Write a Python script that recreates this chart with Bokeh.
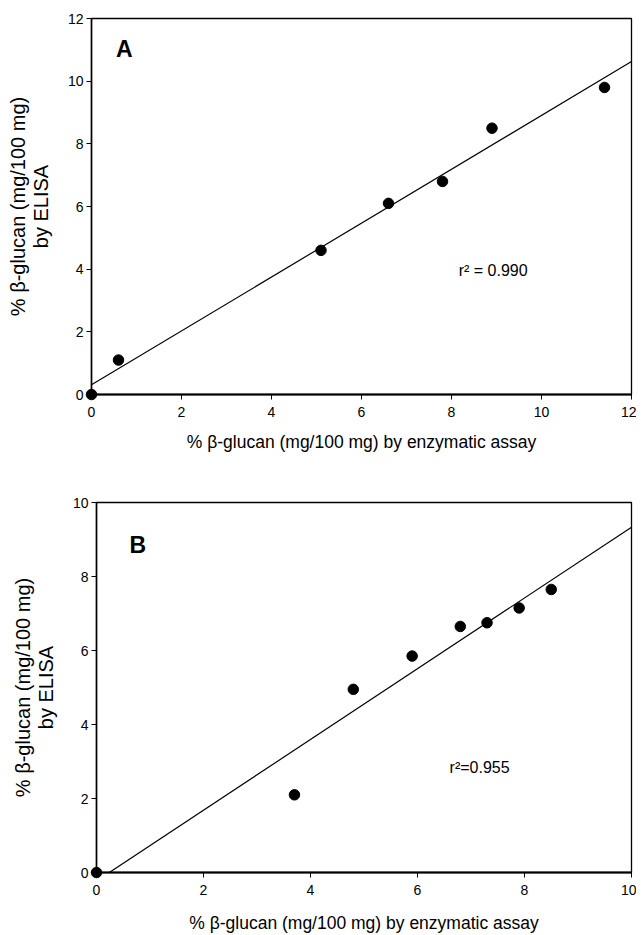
import numpy as np
from bokeh.plotting import figure
from bokeh.layouts import column, row
from bokeh.models import Label, FixedTicker, Spacer
from bokeh.embed import file_html
from bokeh.resources import INLINE

# Panel A data
xa = [0.0, 0.6, 5.1, 6.6, 7.8, 8.9, 11.4]
ya = [0.0, 1.1, 4.6, 6.1, 6.8, 8.5, 9.8]
r2_a = "r\u00b2 = 0.990"
# Panel B data
xb = [0.0, 3.7, 4.8, 5.9, 6.8, 7.3, 7.9, 8.5]
yb = [0.0, 2.1, 4.95, 5.85, 6.65, 6.75, 7.15, 7.65]
r2_b = "r\u00b2=0.955"

ticks_a = [0, 2, 4, 6, 8, 10, 12]
ticks_b = [0, 2, 4, 6, 8, 10]

XLABEL = "% \u03b2-glucan (mg/100 mg) by enzymatic assay"
YLABEL = "% \u03b2-glucan (mg/100 mg)\nby ELISA"
FONT = "Liberation Sans"


def make_panel(x, y, ticks, letter, r2, width, height, bl, bt, bb, br,
               letter_pos, r2_pos, xtitle_standoff):
    lo, hi = ticks[0], ticks[-1]
    p = figure(width=width, height=height, x_range=(lo, hi), y_range=(lo, hi),
               output_backend="svg", toolbar_location=None,
               min_border_left=bl, min_border_top=bt, min_border_bottom=bb,
               min_border_right=br)
    p.grid.visible = False
    p.outline_line_color = "black"
    p.outline_line_width = 1.3
    for ax in (p.xaxis[0], p.yaxis[0]):
        ax.ticker = FixedTicker(ticks=ticks)
        ax.minor_tick_line_color = None
        ax.major_tick_out = 5
        ax.major_tick_in = 0
        ax.axis_line_width = 1.5
        ax.axis_line_color = "black"
        ax.major_tick_line_color = "black"
        ax.major_label_text_font = FONT
        ax.major_label_text_font_size = "14px"
        ax.major_label_text_color = "black"
        ax.axis_label_text_font = FONT
        ax.axis_label_text_font_style = "normal"
        ax.axis_label_text_color = "black"
    p.xaxis.axis_label_text_font_size = "17.5px"
    p.yaxis.axis_label_text_font_size = "20px"
    p.yaxis.axis_label_text_line_height = 1.05
    p.xaxis.axis_line_width = 2.2
    p.xaxis.axis_label = XLABEL
    p.yaxis.axis_label = YLABEL
    p.xaxis.major_label_standoff = 7
    p.xaxis.axis_label_standoff = xtitle_standoff
    p.yaxis.major_label_standoff = 3
    p.yaxis.axis_label_standoff = 13

    # regression line from least-squares fit of the data
    m, c = np.polyfit(x, y, 1)
    lx = np.array([lo, hi], dtype=float)
    p.line(lx, m * lx + c, line_color="black", line_width=1.2)
    p.scatter(x, y, size=10.5, color="black", level="overlay")

    p.add_layout(Label(x=letter_pos[0], y=letter_pos[1], text=letter,
                       text_font=FONT, text_font_style="bold",
                       text_font_size="23px", text_baseline="middle",
                       text_align="center", text_color="black"))
    p.add_layout(Label(x=r2_pos[0], y=r2_pos[1], text=r2,
                       text_font=FONT, text_font_size="16px",
                       text_baseline="middle", text_align="left",
                       text_color="black"))
    return p


pa = make_panel(xa, ya, ticks_a, "A", r2_a, 636, 464, 91, 18, 70, 5,
                (0.73, 11.04), (8.16, 3.96), 12)
pb = make_panel(xb, yb, ticks_b, "B", r2_b, 631, 471, 91, 38, 62, 5,
                (0.77, 8.84), (6.6, 2.83), 15)

layout = column(pa, row(Spacer(width=5, height=471), pb), spacing=0)
open("out.html", "w").write(file_html(layout, INLINE))
